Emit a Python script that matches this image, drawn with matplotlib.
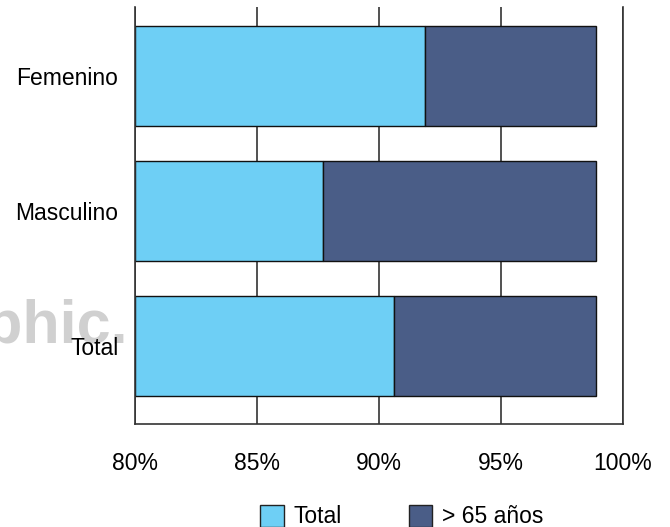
import matplotlib.pyplot as plt
from matplotlib.patches import Patch

plt.rcParams['font.family'] = ['Liberation Sans', 'DejaVu Sans']

categorias = ['Femenino', 'Masculino', 'Total']
total = [91.9, 87.7, 90.6]          # % Total
mayores_65 = [98.9, 98.9, 98.9]     # % > 65 años
ticks = [80, 85, 90, 95, 100]
etiquetas = ['80%', '85%', '90%', '95%', '100%']

c_total = '#6ecff5'
c_mayores = '#4a5d87'
base = 80

fig = plt.figure(figsize=(6.7, 5.27), dpi=100)
ax = fig.add_axes([135 / 670, 1 - 424 / 527, 488 / 670, 417 / 527])

y = range(len(categorias))
ax.barh(y, [t - base for t in total], left=base, height=0.74,
        color=c_total, edgecolor='#111111', linewidth=1, zorder=2)
ax.barh(y, [m - t for m, t in zip(mayores_65, total)], left=total, height=0.74,
        color=c_mayores, edgecolor='#111111', linewidth=1, zorder=2)

ax.set_xlim(80, 100)
ax.set_ylim(2.578, -0.511)
ax.set_xticks(ticks)
ax.set_xticklabels(etiquetas)
ax.set_yticks(list(y))
ax.set_yticklabels(categorias)
ax.tick_params(axis='x', length=0, pad=20.5, labelsize=16.5)
ax.tick_params(axis='y', length=0, pad=12, labelsize=16.5)

# vertical grid lines behind the bars
ax.grid(axis='x', color='#333333', linewidth=1.2, zorder=0)
ax.set_axisbelow(True)
for lado in ['left', 'bottom', 'right']:
    ax.spines[lado].set_color('#333333')
    ax.spines[lado].set_linewidth(1.2)
ax.spines['top'].set_visible(False)

# faint watermark behind the labels
fig.text(128 / 670, 1 - 343 / 527, 'aphic.', ha='right', va='baseline',
         fontsize=44, fontweight='bold', color='#d0d0d0',
         family=['Liberation Sans Narrow', 'Liberation Sans', 'DejaVu Sans'],
         zorder=-1)

handles = [Patch(facecolor=c_total, edgecolor='#222222', label='Total'),
           Patch(facecolor=c_mayores, edgecolor='#222222', label='> 65 años')]
fig.legend(handles=handles, loc='center', bbox_to_anchor=(0.6, 0.02),
           ncol=2, frameon=False, fontsize=16.5, handlelength=1.04,
           handleheight=1.1, handletextpad=0.43, columnspacing=2.9,
           borderpad=0)

fig.savefig('out.png', dpi=100)
